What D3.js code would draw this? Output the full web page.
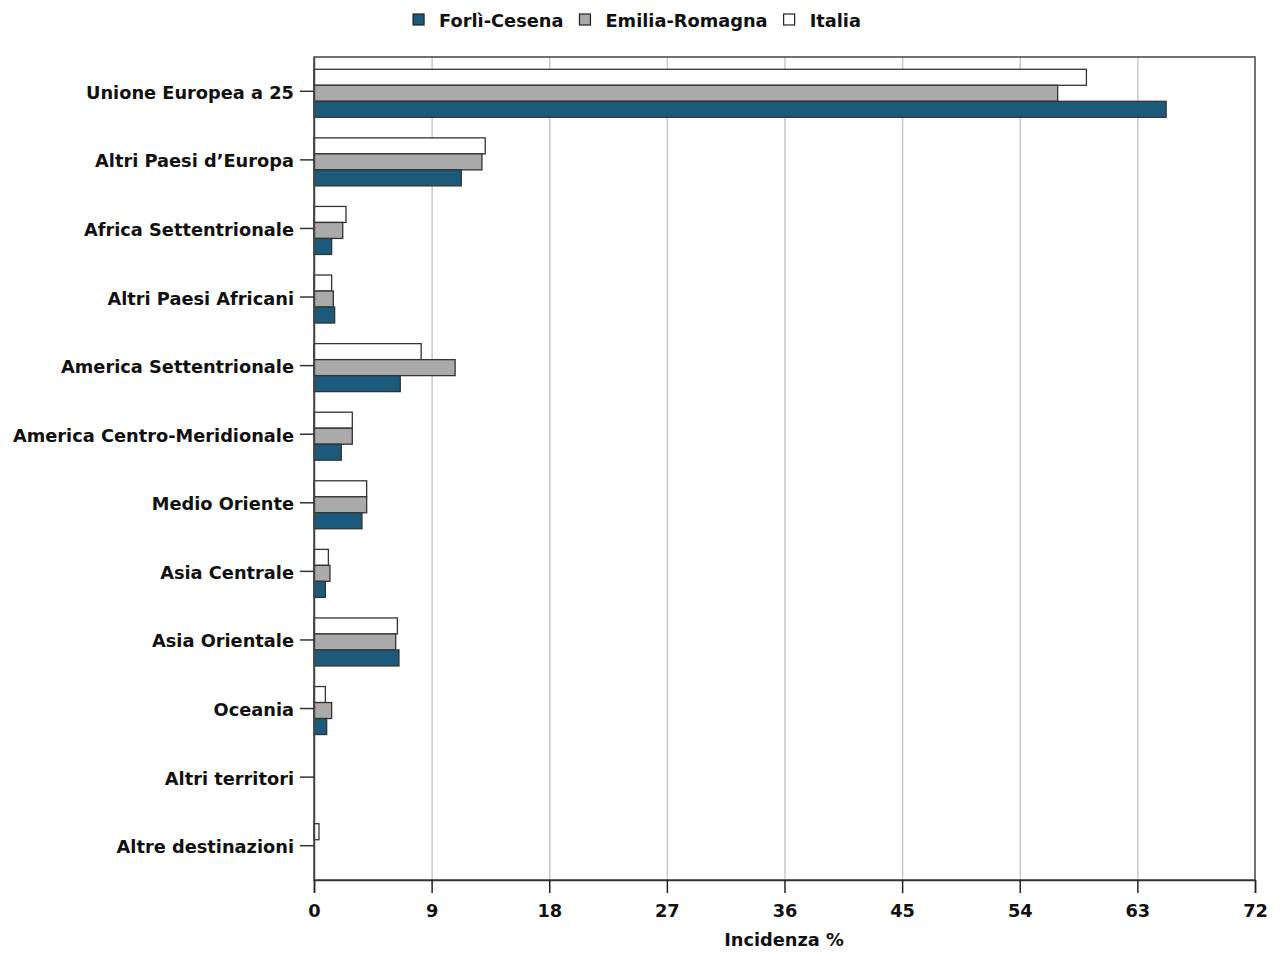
<!DOCTYPE html>
<html>
<head>
<meta charset="utf-8">
<script src="https://d3js.org/d3.v7.min.js"></script>
<style>
  body { margin: 0; background: #fff; }
  text { font-family: "DejaVu Sans", sans-serif; font-weight: bold; fill: #111; }
</style>
</head>
<body>
<script>
// chart data
var categories = ["Unione Europea a 25", "Altri Paesi d\u2019Europa", "Africa Settentrionale",
  "Altri Paesi Africani", "America Settentrionale", "America Centro-Meridionale",
  "Medio Oriente", "Asia Centrale", "Asia Orientale", "Oceania", "Altri territori",
  "Altre destinazioni"];
var seriesNames = ["Italia", "Emilia-Romagna", "Forl\u00ec-Cesena"];
var italia = [59.1, 13.1, 2.45, 1.35, 8.2, 2.93, 4.03, 1.1, 6.38, 0.87, 0, 0.38];
var emilia = [56.9, 12.85, 2.2, 1.48, 10.8, 2.93, 4.03, 1.22, 6.25, 1.35, 0, 0];
var forli = [65.2, 11.27, 1.35, 1.58, 6.6, 2.09, 3.67, 0.87, 6.5, 0.97, 0, 0];
var xTicks = [0, 9, 18, 27, 36, 45, 54, 63, 72];
var legendOrder = ["Forl\u00ec-Cesena", "Emilia-Romagna", "Italia"];

var colors = { "Forl\u00ec-Cesena": "#1c5a7c", "Emilia-Romagna": "#aaaaaa", "Italia": "#ffffff" };
var values = { "Italia": italia, "Emilia-Romagna": emilia, "Forl\u00ec-Cesena": forli };

var width = 1281, height = 953;
var plotL = 314, plotR = 1255, plotT = 57, plotB = 880;
var fs = '17.8px';

var svg = d3.select('body').append('svg')
  .attr('width', width)
  .attr('height', height);

var x = d3.scaleLinear().domain([0, 72]).range([plotL, plotR]);
var y = d3.scaleBand().domain(categories).range([plotT, plotB]);
var inner = d3.scaleBand().domain(seriesNames).range([0, 48]);

// gridlines
svg.append('g').selectAll('line').data(xTicks.slice(1, -1))
  .enter().append('line')
  .attr('x1', function(d) { return x(d) + 0.5; })
  .attr('x2', function(d) { return x(d) + 0.5; })
  .attr('y1', plotT).attr('y2', plotB)
  .attr('stroke', '#c8c8c8').attr('stroke-width', 1.5);

// bars
seriesNames.forEach(function(s) {
  svg.append('g').selectAll('rect').data(categories)
    .enter().append('rect')
    .filter(function(d, i) { return values[s][i] > 0; })
    .attr('x', x(0))
    .attr('y', function(d) { return y(d) + y.bandwidth() / 2 - 22 + inner(s); })
    .attr('width', function(d) { return x(values[s][categories.indexOf(d)]) - x(0); })
    .attr('height', inner.bandwidth())
    .attr('fill', colors[s])
    .attr('stroke', '#333')
    .attr('stroke-width', 1.3);
});

// plot frame
svg.append('rect')
  .attr('x', plotL).attr('y', plotT)
  .attr('width', plotR - plotL).attr('height', plotB - plotT)
  .attr('fill', 'none').attr('stroke', '#444').attr('stroke-width', 1.5);

// axes
var xAxis = svg.append('g')
  .attr('transform', 'translate(0,' + plotB + ')')
  .call(d3.axisBottom(x).tickValues(xTicks).tickSize(13).tickPadding(11));
xAxis.select('.domain').attr('stroke', '#333').attr('stroke-width', 1.5);
xAxis.selectAll('line').attr('stroke', '#222').attr('stroke-width', 1.5);
xAxis.selectAll('text').style('font-size', fs).attr('fill', '#111');

var yAxis = svg.append('g')
  .attr('transform', 'translate(' + plotL + ',0)')
  .call(d3.axisLeft(y).tickSize(14).tickSizeOuter(0).tickPadding(6));
yAxis.select('.domain').attr('stroke', '#444').attr('stroke-width', 1.5);
yAxis.selectAll('line').attr('stroke', '#333').attr('stroke-width', 1.5);
yAxis.selectAll('text').style('font-size', fs).attr('fill', '#111').attr('dy', '0.42em');

svg.append('text')
  .attr('x', 784).attr('y', 946)
  .attr('text-anchor', 'middle')
  .style('font-size', fs)
  .text('Incidenza %');

// legend, laid out from measured text widths and centred on the page
var leg = svg.append('g');
var items = leg.selectAll('g').data(legendOrder)
  .enter().append('g');
items.append('rect')
  .attr('y', 14)
  .attr('width', 11).attr('height', 11)
  .attr('fill', function(d) { return colors[d]; })
  .attr('stroke', '#222').attr('stroke-width', 1.2);
items.append('text')
  .attr('x', 26).attr('y', 26.5)
  .style('font-size', fs)
  .text(function(d) { return d; });
var cursor = 0;
items.each(function() {
  var w = d3.select(this).select('text').node().getComputedTextLength();
  d3.select(this).attr('transform', 'translate(' + cursor + ',0)');
  cursor += 26 + w + 16;
});
cursor -= 16;
leg.attr('transform', 'translate(' + (637 - cursor / 2) + ',0)');
</script>
</body>
</html>
